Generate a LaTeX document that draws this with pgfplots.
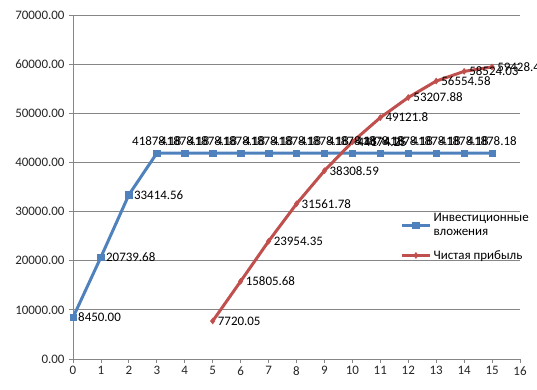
\documentclass[border=0pt]{standalone}
\usepackage{fontspec}
\setmainfont{Carlito}
\usepackage{pgfplots}
\usepackage{pgfplotstable}
\pgfplotsset{compat=1.18}
\definecolor{exblue}{HTML}{4F81BD}
\definecolor{exred}{HTML}{C0504D}
\definecolor{exgray}{HTML}{868686}

\pgfplotstableread{
x y label
0 8450.00 8450.00
1 20739.68 20739.68
2 33414.56 33414.56
3 41878.18 41878.18
4 41878.18 41878.18
5 41878.18 41878.18
6 41878.18 41878.18
7 41878.18 41878.18
8 41878.18 41878.18
9 41878.18 41878.18
10 41878.18 41878.18
11 41878.18 41878.18
12 41878.18 41878.18
13 41878.18 41878.18
14 41878.18 41878.18
15 41878.18 41878.18
}\invest

\pgfplotstableread{
x y label
0 8450.00 8450.00
1 20739.68 20739.68
2 33414.56 33414.56
}\investlow

\pgfplotstableread{
x y label
3 41878.18 41878.18
4 41878.18 41878.18
5 41878.18 41878.18
6 41878.18 41878.18
7 41878.18 41878.18
8 41878.18 41878.18
9 41878.18 41878.18
10 41878.18 41878.18
11 41878.18 41878.18
12 41878.18 41878.18
13 41878.18 41878.18
14 41878.18 41878.18
15 41878.18 41878.18
}\investhigh

\pgfplotstableread{
x y label
5 7720.05 7720.05
6 15805.68 15805.68
7 23954.35 23954.35
8 31561.78 31561.78
9 38308.59 38308.59
10 44174.25 44174.25
11 49121.8 49121.8
12 53207.88 53207.88
13 56554.58 56554.58
14 58524.03 58524.03
15 59428.48 59428.48
}\profit

\begin{document}
\begin{tikzpicture}
\useasboundingbox (-73bp,-31bp) rectangle (464bp,359bp);
\begin{axis}[
  at={(0,0)}, anchor=south west,
  scale only axis,
  width=447bp, height=344bp,
  xmin=0, xmax=16, ymin=0, ymax=70000,
  xtick={0,1,...,16},
  ytick={0,10000,...,70000},
  scaled ticks=false,
  axis lines*=left,
  axis line style={exgray, line width=0.8bp},
  tick align=outside,
  major tick length=4bp,
  tick style={exgray, line width=0.8bp},
  ymajorgrids,
  grid style={exgray, line width=0.8bp},
  clip=false,
  ticklabel style={font=\fontsize{13}{15}\selectfont, text=black!85},
  /pgf/number format/assume math mode=true,
  yticklabel style={/pgf/number format/fixed, /pgf/number format/fixed zerofill, /pgf/number format/precision=2, /pgf/number format/1000 sep={}, xshift=-1bp},
  xticklabel style={/pgf/number format/1000 sep={}},
  legend style={at={(0.725,0.435)}, anchor=north west, draw=none, fill=none,
    font=\fontsize{13}{14}\selectfont, row sep=9bp, cells={align=left}},
  legend cell align=left,
  legend image code/.code={
    \draw[#1, mark repeat=2, mark phase=2] plot coordinates {(0cm,0cm) (0.5cm,0cm) (1cm,0cm)};
  },
]
\addplot[exblue, line width=3bp, mark=square*, mark size=3.2bp, mark options={solid, line width=0.5bp}]
  table[x=x, y=y] {\invest};
\addlegendentry{Инвестиционные\\вложения}
\addplot[exred, line width=3bp, mark=diamond*, mark size=3bp, mark options={solid, line width=0.5bp}]
  table[x=x, y=y] {\profit};
\addlegendentry{Чистая прибыль}

\addplot[forget plot, draw=none, mark=none,
  point meta=explicit symbolic, nodes near coords,
  nodes near coords style={anchor=west, xshift=4bp, font=\fontsize{13}{15}\selectfont, text=black, inner sep=1bp}]
  table[x=x, y=y, meta=label] {\investlow};
\addplot[forget plot, draw=none, mark=none,
  point meta=explicit symbolic, nodes near coords,
  nodes near coords style={anchor=south, yshift=6bp, font=\fontsize{13}{15}\selectfont, text=black, inner sep=1bp}]
  table[x=x, y=y, meta=label] {\investhigh};
\addplot[forget plot, draw=none, mark=none,
  point meta=explicit symbolic, nodes near coords,
  nodes near coords style={anchor=west, xshift=4bp, font=\fontsize{13}{15}\selectfont, text=black, inner sep=1bp}]
  table[x=x, y=y, meta=label] {\profit};
\end{axis}
\end{tikzpicture}
\end{document}
